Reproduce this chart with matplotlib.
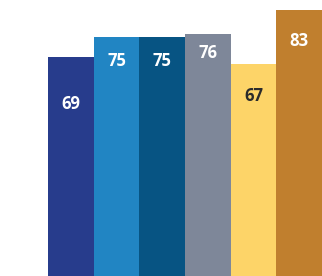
import matplotlib
matplotlib.use("Agg")
import matplotlib.pyplot as plt

# data
categories = ["A", "B", "C", "D", "E", "F"]
values = [69, 75, 75, 76, 67, 83]
bar_colors = ["#273c8c", "#2185c3", "#075483", "#7e8799", "#fdd468", "#c07f2e"]
label_colors = ["white", "white", "white", "white", "#2b2b2b", "white"]
# how far below each bar top the label sits (points)
label_drop = [34, 17, 17, 14, 23, 22]

plt.rcParams["font.family"] = ["Open Sans", "DejaVu Sans"]

fig = plt.figure(figsize=(3.22, 2.76), dpi=100)
ax = fig.add_axes([0, 0, 1, 1])

x = range(len(values))
ax.bar(x, values, width=1.0, color=bar_colors, linewidth=0)

for i, v in enumerate(values):
    ax.annotate(str(v), (i, v), xytext=(0, -label_drop[i]), textcoords="offset points",
                ha="center", va="center", fontsize=12, fontweight="bold",
                color=label_colors[i])

ax.set_xlim(-1.551, 5.5)
ax.set_ylim(3.8, 86)
ax.axis("off")

fig.savefig("out.png", dpi=100)
